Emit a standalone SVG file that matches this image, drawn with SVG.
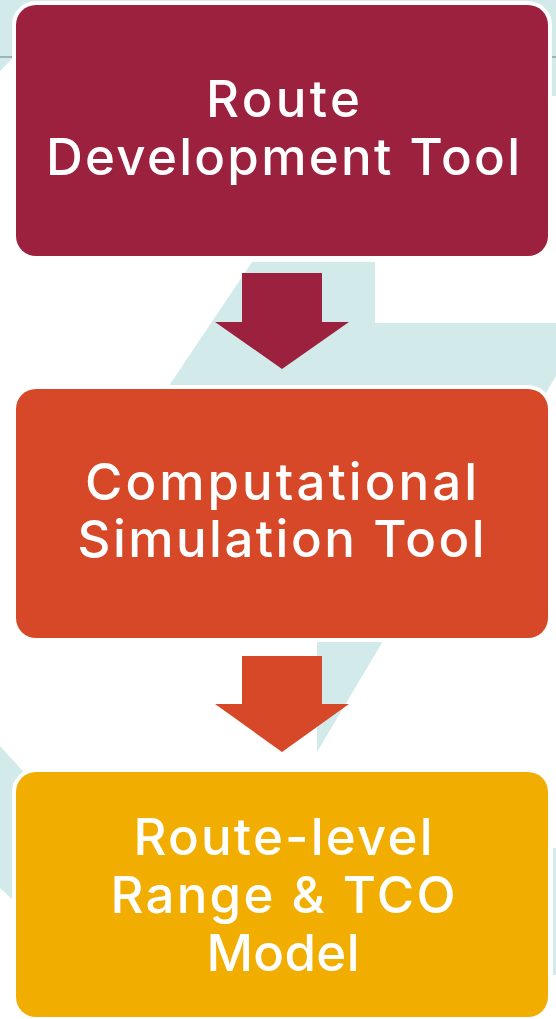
<svg xmlns="http://www.w3.org/2000/svg" width="556" height="1019" viewBox="0 0 556 1019">
<style>
.bg{fill:#D2EBEA}
.box{stroke:#FFFFFF;stroke-width:8;paint-order:stroke}
.lbl{font-family:Inter,"Liberation Sans",sans-serif;font-weight:500;font-size:51px;fill:#FFFFFF;text-anchor:middle}
</style>
<rect width="556" height="1019" fill="#FFFFFF"/>
<g id="background">
<rect class="bg" x="0" y="0" width="556" height="57"/>
<polygon class="bg" points="0,57 14,57 0,71"/>
<rect class="bg" x="530" y="57" width="26" height="39"/>
<line x1="0" y1="57" x2="556" y2="57" stroke="#86A3A3" stroke-width="1.5"/>
<polygon class="bg" points="252,262 375,262 375,323 556,323 556,376 530,420 146,420"/>
<polygon class="bg" points="317,641 383,641 317,752"/>
<polygon class="bg" points="0,746 40,790 40,925 0,888"/>
<rect class="bg" x="553" y="848" width="3" height="127"/>
</g>
<g id="connectors">
<polygon fill="#9C213E" points="242,273 322,273 322,322 349,322 282,369 215,322 242,322"/>
<polygon fill="#D64827" points="242,656 322,656 322,704 349,704 282,752 215,704 242,704"/>
</g>
<g id="route-development-tool">
<rect class="box" x="16" y="5" width="532" height="251" rx="20" fill="#9C213E"/>
<text class="lbl" x="283" y="117" textLength="154">Route</text>
<text class="lbl" x="283" y="175" textLength="474">Development Tool</text>
</g>
<g id="computational-simulation-tool">
<rect class="box" x="16" y="389" width="532" height="249" rx="20" fill="#D64827"/>
<text class="lbl" x="281" y="500" textLength="392">Computational</text>
<text class="lbl" x="281" y="557" textLength="407">Simulation Tool</text>
</g>
<g id="route-level-range-tco-model">
<rect class="box" x="16" y="772" width="532" height="245" rx="20" fill="#F2AE00"/>
<text class="lbl" x="283" y="855" textLength="299">Route-level</text>
<text class="lbl" x="283" y="913" textLength="345">Range &amp; TCO</text>
<text class="lbl" x="283" y="971" textLength="153">Model</text>
</g>
</svg>
